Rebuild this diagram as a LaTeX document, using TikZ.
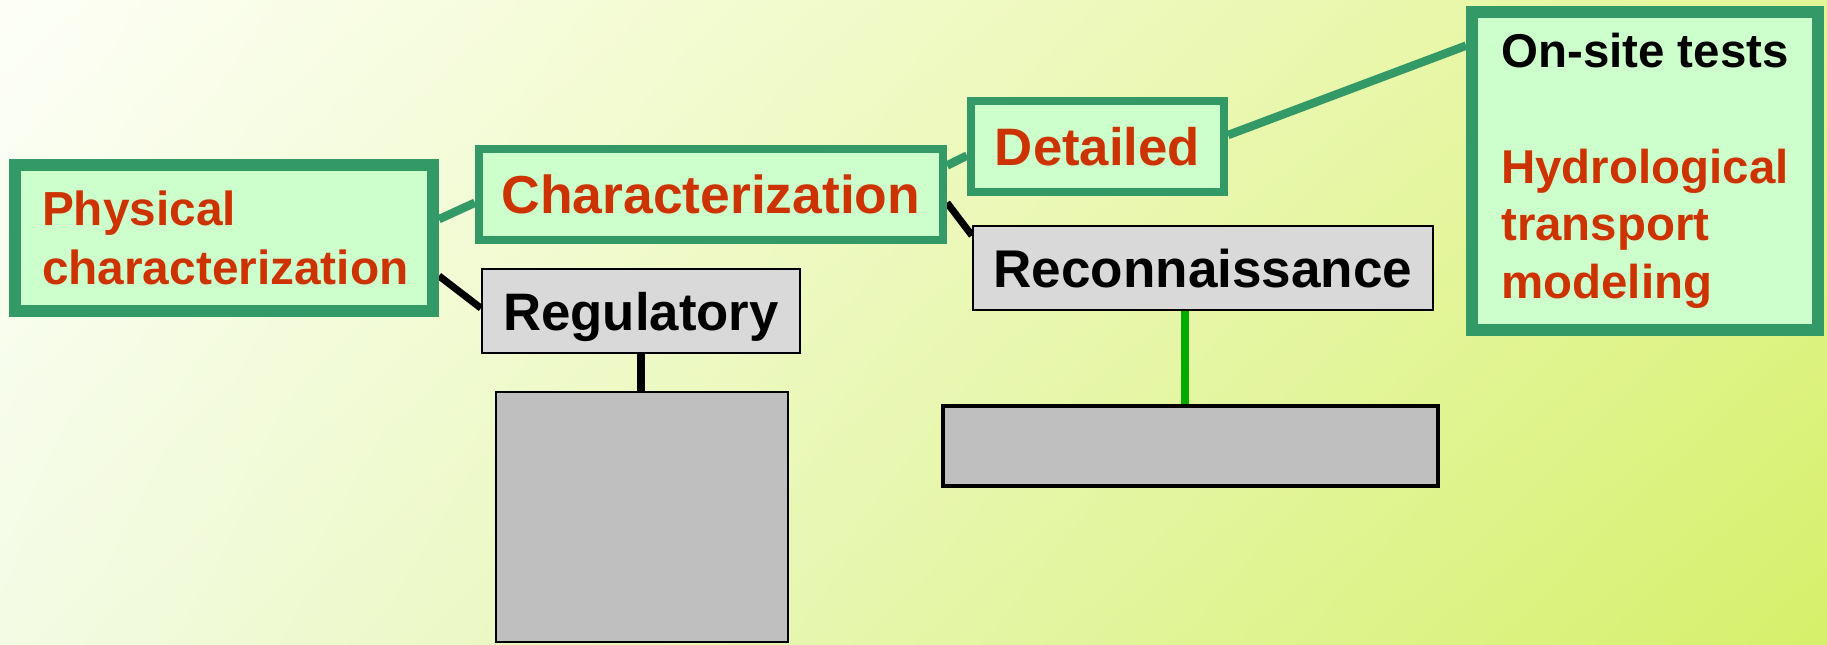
\documentclass[tikz,border=0pt]{standalone}
\usepackage{fontspec}
\setmainfont{Liberation Sans}
\usetikzlibrary{backgrounds,shadings}

\definecolor{boxgreen}{HTML}{339966}
\definecolor{boxfill}{HTML}{CCFFCC}
\definecolor{boxred}{HTML}{CC3300}
\definecolor{linegreen}{HTML}{00AA00}
\definecolor{bgA}{HTML}{FDFFF7}
\definecolor{bgB}{HTML}{E3F596}
\definecolor{bgC}{HTML}{F3FBE4}
\definecolor{bgD}{HTML}{D6F06A}

\begin{document}
\begin{tikzpicture}[x=1cm,y=-1cm,
  gbox/.style={draw=boxgreen,fill=boxfill,text=boxred,inner sep=0pt},
  wbox/.style={draw=black,fill=black!15,line width=.6pt,inner sep=0pt,text depth=0pt},
  gline/.style={draw=boxgreen,line width=2.4pt},
  bline/.style={draw=black,line width=2pt}]
\useasboundingbox (0,0) rectangle (18.27,6.45);
\node[gbox,line width=3.4pt,minimum width=4.18cm,minimum height=1.46cm,text width=3.64cm,align=left,
  font=\fontsize{13.6pt}{16.8pt}\selectfont\bfseries] (n0) at (2.24,2.38) {Physical\\characterization};
\node[gbox,line width=2.3pt,minimum width=4.64cm,minimum height=.91cm,
  font=\fontsize{15.2pt}{18pt}\selectfont\bfseries] (n1) at (7.11,1.945) {Characterization};
\node[gbox,line width=2.3pt,minimum width=2.53cm,minimum height=.91cm,
  font=\fontsize{15pt}{17pt}\selectfont\bfseries] (n2) at (10.975,1.465) {Detailed};
\node[gbox,line width=3.4pt,minimum width=3.46cm,minimum height=3.18cm,align=left,
  font=\fontsize{13.5pt}{16.4pt}\selectfont\bfseries] (n3) at (16.45,1.71)
  {\textcolor{black}{On-site tests}\\[16.4pt]Hydrological\\transport\\modeling};
\node[wbox,minimum width=3.18cm,minimum height=.84cm,
  font=\fontsize{15pt}{17pt}\selectfont\bfseries] (n4) at (6.41,3.11) {Regulatory};
\node[wbox,minimum width=4.60cm,minimum height=.84cm,
  font=\fontsize{15.1pt}{17pt}\selectfont\bfseries] (n5) at (12.03,2.68) {Reconnaissance};
\node[draw,fill=black!25,line width=.6pt,minimum width=2.92cm,minimum height=2.5cm] (n6) at (6.42,5.17) {};
\node[draw,fill=black!25,line width=1.3pt,minimum width=4.95cm,minimum height=.8cm] (n7) at (11.905,4.46) {};
\coordinate (c7) at ([xshift=-1.6pt]n7.north);

\begin{scope}[on background layer]
\shade[upper left=bgA,upper right=bgB,lower left=bgC,lower right=bgD] (0,0) rectangle (18.27,6.45);
\draw[gline] (n0.5) -- (n1.182);
\draw[gline] (n1.7) -- (n2.184);
\draw[gline] (n2.5) -- (n3.145);
\draw[bline] (n0.-10) -- (n4.179);
\draw[bline] (n1.-2) -- (n5.172);
\draw[bline] (n4.south) -- (n4.south |- n6.north);
\draw[draw=linegreen,line width=2.2pt] (c7 |- n5.south) -- (c7);
\end{scope}
\end{tikzpicture}
\end{document}
